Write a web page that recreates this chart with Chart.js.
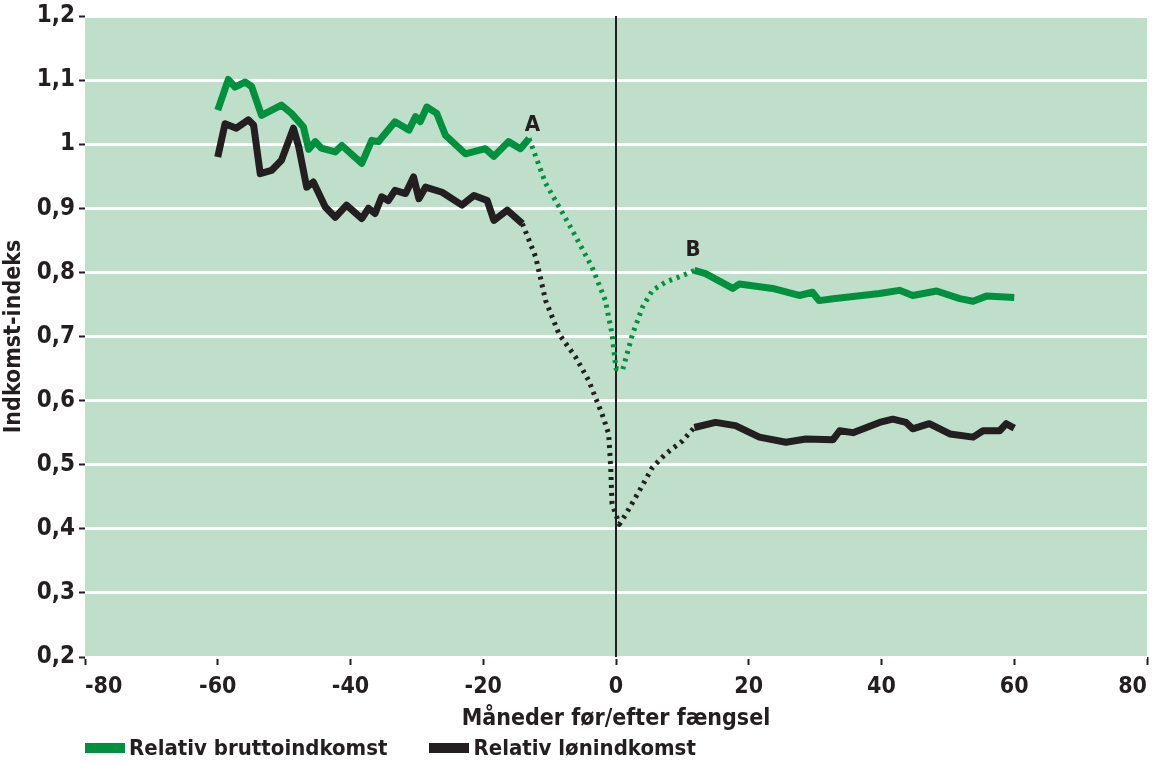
<!DOCTYPE html>
<html>
<head>
<meta charset="utf-8">
<script src="https://cdn.jsdelivr.net/npm/chart.js@4.4.1/dist/chart.umd.min.js"></script>
<style>
  html, body { margin: 0; padding: 0; background: #fff; }
  #wrap { width: 1153px; height: 763px; position: relative; }
  #legend { position: absolute; left: 85px; top: 735px; display: flex; gap: 42px;
            font: bold 22px 'Liberation Sans Narrow', 'DejaVu Sans Condensed', sans-serif; color: #231f20; }
  #legend span.item { display: flex; align-items: center; }
  #legend i { display: inline-block; width: 40px; height: 10px; margin-right: 4px; }
</style>
</head>
<body>
<div id="wrap"><canvas id="chart"></canvas><div id="legend"></div></div>
<script>
// Relativ bruttoindkomst (green)
const grossPreMonths = [-60, -58.4, -57.4, -55.9, -54.9, -53.4, -50.4, -48.9, -47.1, -46.3, -45.3, -44.4, -42.3, -41.3, -38.3, -36.8, -35.8, -33.3, -31.2, -30.2, -29.5, -28.5, -27.0, -25.7, -22.7, -19.7, -18.4, -16.2, -14.4, -13.1];
const grossPreValues = [1.053, 1.101, 1.089, 1.097, 1.090, 1.045, 1.061, 1.048, 1.027, 0.992, 1.004, 0.994, 0.988, 0.998, 0.970, 1.006, 1.004, 1.035, 1.022, 1.043, 1.035, 1.058, 1.048, 1.014, 0.985, 0.993, 0.981, 1.004, 0.993, 1.009];
const grossGapMonths = [-13.1, -10.6, -6.6, -3.6, -1.6, -0.6, 0, 1, 2.5, 4, 5.5, 7.5, 10, 11.8];
const grossGapValues = [1.009, 0.939, 0.866, 0.808, 0.756, 0.704, 0.650, 0.648, 0.704, 0.746, 0.772, 0.785, 0.795, 0.803];
const grossPostMonths = [11.8, 13.5, 17.6, 18.6, 23.6, 27.6, 29.6, 30.6, 32.7, 39.7, 42.7, 44.7, 48.3, 51.8, 53.8, 55.8, 60];
const grossPostValues = [0.803, 0.798, 0.775, 0.782, 0.775, 0.764, 0.769, 0.756, 0.759, 0.767, 0.772, 0.764, 0.771, 0.759, 0.755, 0.763, 0.761];

// Relativ lønindkomst (black)
const wagePreMonths = [-60, -58.9, -57.2, -55.4, -54.6, -53.6, -51.9, -50.4, -48.6, -47.8, -46.6, -45.6, -43.8, -42.3, -40.6, -38.3, -37.3, -36.3, -35.3, -34.3, -33.3, -31.7, -30.5, -29.7, -28.7, -26.2, -23.2, -21.4, -19.4, -18.4, -16.4, -14.1];
const wagePreValues = [0.980, 1.032, 1.025, 1.038, 1.030, 0.954, 0.959, 0.975, 1.025, 0.996, 0.933, 0.941, 0.902, 0.886, 0.905, 0.884, 0.900, 0.892, 0.918, 0.912, 0.928, 0.923, 0.949, 0.915, 0.933, 0.925, 0.905, 0.920, 0.912, 0.881, 0.897, 0.876];
const wageGapMonths = [-14.1, -12.1, -10.6, -8.6, -6.1, -4.1, -2.1, -1.1, -0.8, -0.6, 0.5, 1.5, 3.5, 5.5, 7.5, 10, 11.8];
const wageGapValues = [0.876, 0.824, 0.756, 0.704, 0.668, 0.631, 0.579, 0.548, 0.496, 0.439, 0.407, 0.423, 0.459, 0.496, 0.517, 0.537, 0.558];
const wagePostMonths = [11.8, 15, 18, 21.6, 25.6, 28.6, 32.7, 33.7, 35.7, 39.7, 41.7, 43.7, 44.7, 47.2, 50.3, 53.8, 55.3, 57.8, 58.8, 60];
const wagePostValues = [0.558, 0.566, 0.561, 0.543, 0.535, 0.540, 0.539, 0.553, 0.550, 0.566, 0.571, 0.566, 0.556, 0.564, 0.548, 0.543, 0.553, 0.553, 0.564, 0.557];

// axis and labels
const xMin = -80, xMax = 80, xStep = 20;
const yMin = 0.2, yMax = 1.2, yStep = 0.1;
const markerLabels = ['A', 'B'];
const markerMonths = [-12.6, 11.6];
const markerValues = [1.03, 0.834];
const legendLabels = ['Relativ bruttoindkomst', 'Relativ lønindkomst'];

const c = {
    green: '#00913f',
    black: '#231f20',
    plotBg: '#bfdfca',
    text: '#231f20'
};
const fontFamily = "'Liberation Sans Narrow', 'DejaVu Sans Condensed', sans-serif";

function pts(xs, ys) {
    return xs.map((x, i) => ({ x: x, y: ys[i] }));
}

function lineSet(label, xs, ys, color, dotted) {
    return {
        label: label,
        data: pts(xs, ys),
        borderColor: color,
        backgroundColor: color,
        borderWidth: dotted ? 5 : 7,
        borderDash: dotted ? [3, 5] : [],
        borderJoinStyle: 'round',
        borderCapStyle: 'butt',
        pointRadius: 0,
        tension: 0,
        fill: false
    };
}

const plotBackground = {
    id: 'plotBackground',
    beforeDraw(chart) {
        const a = chart.chartArea;
        const ctx = chart.ctx;
        ctx.save();
        ctx.fillStyle = c.plotBg;
        ctx.fillRect(a.left, a.top, a.right - a.left, a.bottom - a.top);
        ctx.restore();
    }
};

const markers = {
    id: 'markers',
    afterDatasetsDraw(chart) {
        const ctx = chart.ctx;
        const xs = chart.scales.x, ys = chart.scales.y;
        ctx.save();
        ctx.font = 'bold 22px ' + fontFamily;
        ctx.fillStyle = c.text;
        ctx.textAlign = 'center';
        ctx.textBaseline = 'middle';
        markerLabels.forEach((t, i) => {
            ctx.fillText(t, xs.getPixelForValue(markerMonths[i]), ys.getPixelForValue(markerValues[i]));
        });
        ctx.restore();
    }
};

// legend below the chart (only the two solid series)
const legendEl = document.getElementById('legend');
[c.green, c.black].forEach((col, i) => {
    const item = document.createElement('span');
    item.className = 'item';
    item.innerHTML = '<i style="background:' + col + '"></i>' + legendLabels[i];
    legendEl.appendChild(item);
});

new Chart(document.getElementById('chart'), {
    type: 'line',
    data: {
        datasets: [
            lineSet(legendLabels[0], grossPreMonths, grossPreValues, c.green, false),
            lineSet(legendLabels[1], wagePreMonths, wagePreValues, c.black, false),
            lineSet('', grossGapMonths, grossGapValues, c.green, true),
            lineSet('', grossPostMonths, grossPostValues, c.green, false),
            lineSet('', wageGapMonths, wageGapValues, c.black, true),
            lineSet('', wagePostMonths, wagePostValues, c.black, false),
            {
                label: '',
                data: [{ x: 0, y: yMin }, { x: 0, y: yMax }],
                borderColor: c.black,
                borderWidth: 2,
                pointRadius: 0,
                fill: false
            }
        ]
    },
    options: {
        responsive: true,
        maintainAspectRatio: false,
        animation: false,
        layout: { padding: { top: 16, right: 6, left: 0, bottom: 30 } },
        plugins: {
            legend: { display: false },
            tooltip: { enabled: false }
        },
        scales: {
            x: {
                type: 'linear',
                min: xMin,
                max: xMax,
                ticks: {
                    stepSize: xStep,
                    align: 'inner',
                    color: c.text,
                    padding: 8,
                    font: { size: 23, weight: 'bold', family: fontFamily }
                },
                grid: {
                    drawOnChartArea: false,
                    tickColor: c.black,
                    tickLength: 8,
                    tickWidth: 2
                },
                border: { display: false },
                title: {
                    display: true,
                    text: 'Måneder før/efter fængsel',
                    color: c.text,
                    padding: { top: 2, bottom: 0 },
                    font: { size: 23, weight: 'bold', family: fontFamily }
                },
                afterFit: function (scale) {
                    scale.height = 76;
                    scale.paddingLeft = 0;
                    scale.paddingRight = 0;
                }
            },
            y: {
                min: yMin,
                max: yMax,
                ticks: {
                    stepSize: yStep,
                    color: c.text,
                    padding: 4,
                    font: { size: 24, weight: 'bold', family: fontFamily },
                    callback: function (v) {
                        return String(Math.round(v * 10) / 10).replace('.', ',');
                    }
                },
                grid: {
                    color: '#ffffff',
                    lineWidth: 3,
                    tickColor: c.black,
                    tickLength: 6,
                    tickWidth: 2
                },
                border: { display: false },
                title: {
                    display: true,
                    text: 'Indkomst-indeks',
                    color: c.text,
                    padding: { top: 0, bottom: 4 },
                    font: { size: 23, weight: 'bold', family: fontFamily }
                },
                afterFit: function (scale) {
                    scale.width = 85;
                    scale.paddingTop = 0;
                    scale.paddingBottom = 0;
                }
            }
        }
    },
    plugins: [plotBackground, markers]
});
</script>
</body>
</html>
